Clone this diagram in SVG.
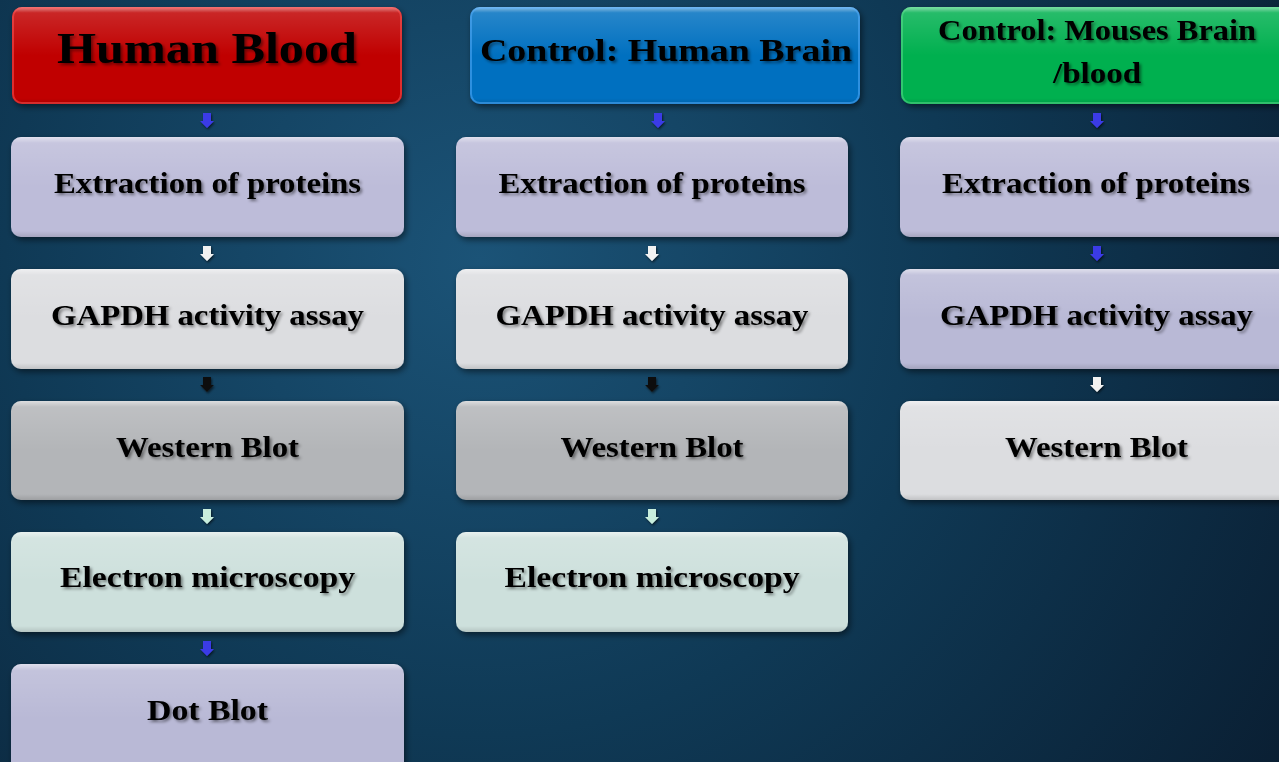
<svg xmlns="http://www.w3.org/2000/svg" width="1279" height="762" viewBox="0 0 1279 762">
<defs>
<radialGradient id="bg" cx="480" cy="260" r="950" gradientUnits="userSpaceOnUse">
<stop offset="0" stop-color="#1b5377"/>
<stop offset="0.5" stop-color="#0f3955"/>
<stop offset="1" stop-color="#0a1f33"/>
</radialGradient>
<linearGradient id="gloss" x1="0" y1="0" x2="0" y2="1">
<stop offset="0" stop-color="#fff" stop-opacity="0.55"/>
<stop offset="0.06" stop-color="#fff" stop-opacity="0.15"/>
<stop offset="0.5" stop-color="#fff" stop-opacity="0"/>
<stop offset="0.94" stop-color="#000" stop-opacity="0"/>
<stop offset="1" stop-color="#000" stop-opacity="0.12"/>
</linearGradient>
<filter id="sh" x="-5%" y="-10%" width="112%" height="125%">
<feDropShadow dx="2" dy="3" stdDeviation="3" flood-color="#000" flood-opacity="0.5"/>
</filter>
<filter id="tsh" x="-5%" y="-20%" width="112%" height="150%">
<feDropShadow dx="2" dy="2" stdDeviation="1.5" flood-color="#000" flood-opacity="0.45"/>
</filter>
<filter id="ash" x="-50%" y="-50%" width="200%" height="200%">
<feDropShadow dx="1" dy="1.5" stdDeviation="1" flood-color="#000" flood-opacity="0.6"/>
</filter>
<path id="arr" d="M-4,0 H4 V8 H7 L0,15 L-7,8 H-4 Z"/>
</defs>
<style>
.t{font-family:"Liberation Serif","Times New Roman",serif;font-weight:bold;fill:#000;text-anchor:middle;filter:url(#tsh)}
.bt{font-size:30px}
.box{filter:url(#sh)}
.gl{fill:url(#gloss)}
.c{fill:#fff;opacity:0.85}
.a{filter:url(#ash);stroke:none}
.blue{fill:#3a3ae6}
.white{fill:#f2f2f2}
.black{fill:#111}
.mint{fill:#c8eedd}
</style>
<rect width="1279" height="762" fill="url(#bg)"/>

<!-- Column 1 -->
<g id="hdr1">
<rect class="box" x="12" y="7" width="390" height="97" rx="10" fill="#c00000"/>
<rect x="12" y="7" width="390" height="97" rx="10" class="gl"/>
<rect x="13" y="8" width="388" height="95" rx="9" fill="none" stroke="#ff5a5a" stroke-opacity="0.5" stroke-width="2"/>
<text class="t" x="207" y="63" font-size="44" textLength="300" lengthAdjust="spacingAndGlyphs">Human Blood</text>
</g>
<g id="c1n1">
<rect class="box" x="11" y="137" width="393" height="100" rx="10" fill="#bdbcd9"/>
<rect x="11" y="137" width="393" height="100" rx="10" class="gl"/>
<text class="t bt" x="207.5" y="193" textLength="307" lengthAdjust="spacingAndGlyphs">Extraction of proteins</text>
</g>
<g id="c1n2">
<rect class="box" x="11" y="269" width="393" height="100" rx="10" fill="#dcdde0"/>
<rect x="11" y="269" width="393" height="100" rx="10" class="gl"/>
<text class="t bt" x="207.5" y="325" textLength="313" lengthAdjust="spacingAndGlyphs">GAPDH activity assay</text>
</g>
<g id="c1n3">
<rect class="box" x="11" y="401" width="393" height="99" rx="10" fill="#b3b5b8"/>
<rect x="11" y="401" width="393" height="99" rx="10" class="gl"/>
<text class="t bt" x="207.5" y="457" textLength="183" lengthAdjust="spacingAndGlyphs">Western Blot</text>
</g>
<g id="c1n4">
<rect class="box" x="11" y="532" width="393" height="100" rx="10" fill="#cde0dc"/>
<rect x="11" y="532" width="393" height="100" rx="10" class="gl"/>
<text class="t bt" x="207.5" y="587" textLength="295" lengthAdjust="spacingAndGlyphs">Electron microscopy</text>
</g>
<g id="c1n5">
<rect class="box" x="11" y="664" width="393" height="110" rx="10" fill="#b9b9d6"/>
<rect x="11" y="664" width="393" height="110" rx="10" class="gl"/>
<text class="t bt" x="207.5" y="720" textLength="121" lengthAdjust="spacingAndGlyphs">Dot Blot</text>
</g>

<!-- Column 2 -->
<g id="hdr2">
<rect class="box" x="470" y="7" width="390" height="97" rx="10" fill="#0070c0"/>
<rect x="470" y="7" width="390" height="97" rx="10" class="gl"/>
<rect x="471" y="8" width="388" height="95" rx="9" fill="none" stroke="#5ab0ff" stroke-opacity="0.5" stroke-width="2"/>
<text class="t" x="666" y="61" font-size="32" textLength="372" lengthAdjust="spacingAndGlyphs">Control: Human Brain</text>
</g>
<g id="c2n1">
<rect class="box" x="456" y="137" width="392" height="100" rx="10" fill="#bdbcd9"/>
<rect x="456" y="137" width="392" height="100" rx="10" class="gl"/>
<text class="t bt" x="652" y="193" textLength="307" lengthAdjust="spacingAndGlyphs">Extraction of proteins</text>
</g>
<g id="c2n2">
<rect class="box" x="456" y="269" width="392" height="100" rx="10" fill="#dcdde0"/>
<rect x="456" y="269" width="392" height="100" rx="10" class="gl"/>
<text class="t bt" x="652" y="325" textLength="313" lengthAdjust="spacingAndGlyphs">GAPDH activity assay</text>
</g>
<g id="c2n3">
<rect class="box" x="456" y="401" width="392" height="99" rx="10" fill="#b3b5b8"/>
<rect x="456" y="401" width="392" height="99" rx="10" class="gl"/>
<text class="t bt" x="652" y="457" textLength="183" lengthAdjust="spacingAndGlyphs">Western Blot</text>
</g>
<g id="c2n4">
<rect class="box" x="456" y="532" width="392" height="100" rx="10" fill="#cde0dc"/>
<rect x="456" y="532" width="392" height="100" rx="10" class="gl"/>
<text class="t bt" x="652" y="587" textLength="295" lengthAdjust="spacingAndGlyphs">Electron microscopy</text>
</g>

<!-- Column 3 -->
<g id="hdr3">
<rect class="box" x="901" y="7" width="400" height="97" rx="10" fill="#00b050"/>
<rect x="901" y="7" width="400" height="97" rx="10" class="gl"/>
<rect x="902" y="8" width="398" height="95" rx="9" fill="none" stroke="#60e090" stroke-opacity="0.5" stroke-width="2"/>
<text class="t" x="1097" y="40" font-size="29" textLength="318" lengthAdjust="spacingAndGlyphs">Control: Mouses Brain</text>
<text class="t" x="1097" y="83" font-size="29" textLength="88" lengthAdjust="spacingAndGlyphs">/blood</text>
</g>
<g id="c3n1">
<rect class="box" x="900" y="137" width="400" height="100" rx="10" fill="#bdbcd9"/>
<rect x="900" y="137" width="400" height="100" rx="10" class="gl"/>
<text class="t bt" x="1096" y="193" textLength="308" lengthAdjust="spacingAndGlyphs">Extraction of proteins</text>
</g>
<g id="c3n2">
<rect class="box" x="900" y="269" width="400" height="100" rx="10" fill="#b9b9d6"/>
<rect x="900" y="269" width="400" height="100" rx="10" class="gl"/>
<text class="t bt" x="1096.5" y="325" textLength="313" lengthAdjust="spacingAndGlyphs">GAPDH activity assay</text>
</g>
<g id="c3n3">
<rect class="box" x="900" y="401" width="400" height="99" rx="10" fill="#dcdde0"/>
<rect x="900" y="401" width="400" height="99" rx="10" class="gl"/>
<text class="t bt" x="1096.5" y="457" textLength="183" lengthAdjust="spacingAndGlyphs">Western Blot</text>
</g>

<!-- Connectors -->
<g id="connectors">
<use href="#arr" class="a blue" x="207" y="113"/>
<use href="#arr" class="a white" x="207" y="246"/>
<use href="#arr" class="a black" x="207" y="377"/>
<use href="#arr" class="a mint" x="207" y="509"/>
<use href="#arr" class="a blue" x="207" y="641"/>

<use href="#arr" class="a blue" x="658" y="113"/>
<use href="#arr" class="a white" x="652" y="246"/>
<use href="#arr" class="a black" x="652" y="377"/>
<use href="#arr" class="a mint" x="652" y="509"/>

<use href="#arr" class="a blue" x="1097" y="113"/>
<use href="#arr" class="a blue" x="1097" y="246"/>
<use href="#arr" class="a white" x="1097" y="377"/>
</g>
</svg>
